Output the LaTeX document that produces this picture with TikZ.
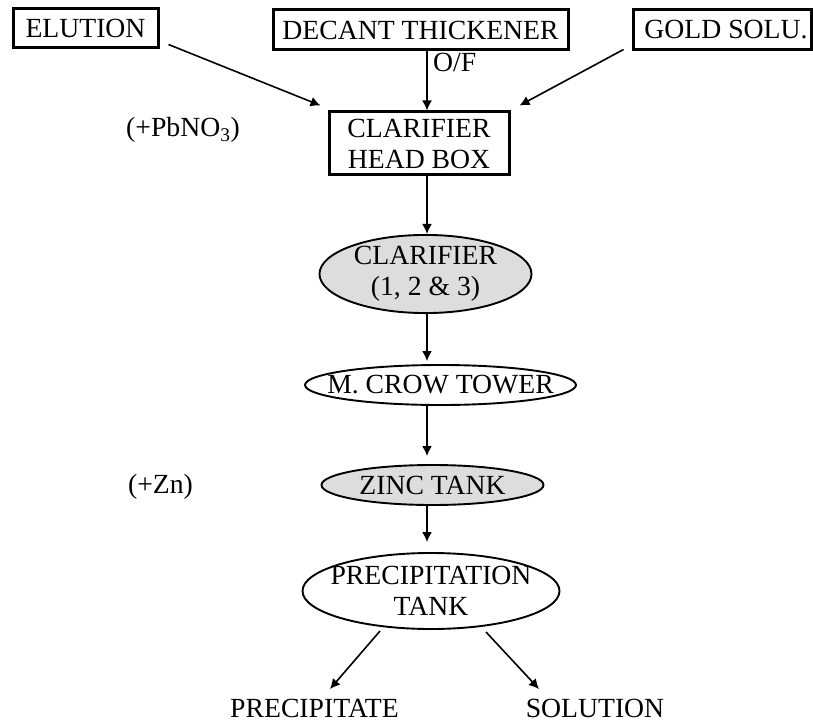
\documentclass[tikz,border=0pt]{standalone}
\usepackage{fontspec}
\setmainfont{Liberation Serif}
\usetikzlibrary{arrows.meta,calc,shapes.geometric}
\definecolor{ovalgray}{RGB}{221,221,221}
\begin{document}
\begin{tikzpicture}[x=1pt,y=-1pt,
  every node/.style={font=\fontsize{27.7}{31}\selectfont},
  box/.style={draw, line width=3pt, rectangle, inner sep=0pt, align=center},
  oval/.style={draw, line width=1.9pt, ellipse, inner sep=0pt, align=center},
  grayoval/.style={oval, fill=ovalgray},
  txt/.style={inner sep=0pt, anchor=base},
  arr/.style={line width=1.6pt, -{Latex[length=10pt,width=10pt]}},
]
\useasboundingbox (0,0) rectangle (813,722);

\node[box, minimum width=145pt, minimum height=39pt] (elution) at (85.5,28.5) {ELUTION};
\node[box, minimum width=295pt, minimum height=40pt] (decant) at (420.5,30) {DECANT THICKENER};
\node[box, minimum width=178pt, minimum height=40pt] (gold) at (722,30) {\hspace*{8pt}GOLD SOLU.};
\node[box, minimum width=180pt, minimum height=63pt] (head) at (419,143.5) {CLARIFIER\\HEAD BOX};
\coordinate (ax) at (427,0);

\node[grayoval, minimum width=212pt, minimum height=78pt] (clar) at (425.5,274) {\makebox[0pt]{CLARIFIER}\\\makebox[0pt]{(1, 2 \& 3)}};
\node[oval, minimum width=271pt, minimum height=40pt] (crow) at (440.5,385) {\makebox[0pt]{M. CROW TOWER}};
\node[grayoval, minimum width=222pt, minimum height=40pt] (zinc) at (432.5,485) {\makebox[0pt]{ZINC TANK}};
\node[oval, minimum width=257pt, minimum height=76pt] (precip) at (431,591) {\makebox[0pt]{PRECIPITATION}\\\makebox[0pt]{TANK}};

\node[txt, anchor=base west] (of) at (433,72) {O/F};
\node[txt] (pb) at (183,137) {(+PbNO\textsubscript{3})};
\node[txt] (zn) at (160.5,493) {(+Zn)};
\node[txt] (ppt) at (314.5,717) {PRECIPITATE};
\node[txt] (sol) at (595,717) {SOLUTION};

\draw[arr] ($(elution.south east)+(9,-5)$) -- ($(head.north west)+(-7,-5)$);
\draw[arr] ($(gold.south west)+(-8,-2)$) -- ($(head.north east)+(9,-5)$);
\draw[arr] (ax |- decant.south) -- (ax |- head.north);
\draw[arr] (ax |- head.south) -- (ax |- clar.north);
\draw[arr, shorten >=3pt] (ax |- clar.south) -- (ax |- crow.north);
\draw[arr, shorten >=8pt] (ax |- crow.south) -- (ax |- zinc.north);
\draw[arr, shorten >=10pt] (ax |- zinc.south) -- (ax |- precip.north);
\draw[arr] ($(precip.center)+(-51,40)$) -- ($(ppt.base)+(15.5,-28)$);
\draw[arr] ($(precip.center)+(55,41)$) -- ($(sol.base)+(-56,-28)$);
\end{tikzpicture}
\end{document}
